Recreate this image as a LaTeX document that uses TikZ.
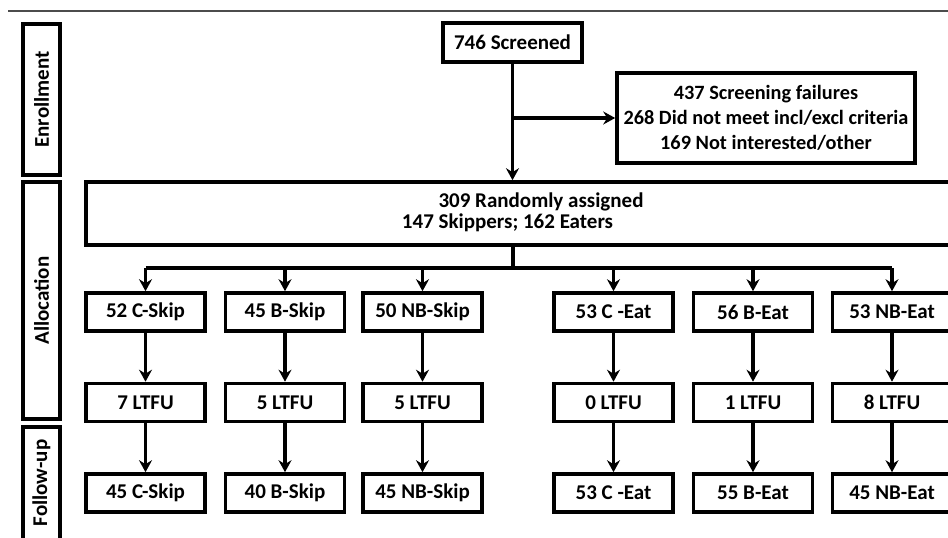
\documentclass[tikz,border=0pt]{standalone}
\usepackage{fontspec}
\setmainfont{Carlito}
\usetikzlibrary{arrows.meta}
\begin{document}
\begin{tikzpicture}[x=1pt,y=-1pt,
  box/.style={draw,line width=3.6pt,minimum width=119pt,minimum height=38pt,inner sep=0pt,font=\fontsize{21}{25}\selectfont\bfseries},
  sidebox/.style={draw,line width=3.6pt,inner sep=0pt},
  sidelab/.style={rotate=90,font=\fontsize{21}{25}\selectfont\bfseries},
  txt/.style={font=\fontsize{21}{25}\selectfont\bfseries,inner sep=0pt},
  conn/.style={line width=3.6pt},
  arr/.style={conn,-{Stealth[length=12pt,width=13pt,inset=4pt]}}]
\useasboundingbox (0,0) rectangle (948,538);
\draw[line width=1.2pt,gray!60!black] (8,11) -- (948,11);
% side boxes
\node[sidebox,minimum width=37pt,minimum height=151pt] (enr) at (41.5,99.5) {};
\node[sidelab] (enrl) at (enr.center) {Enrollment};
\node[sidebox,minimum width=37pt,minimum height=237pt] (all) at (41.5,300.5) {};
\node[sidelab] (alll) at (all.center) {Allocation};
\node[sidebox,minimum width=37pt,minimum height=130pt] (fol) at (41.5,492) {};
\node[sidelab] (foll) at (41.5,483) {Follow-up};
% top
\node[box,minimum width=139pt,minimum height=39pt] (scr) at (512.5,42.5) {746 Screened};
\node[box,minimum width=298pt,minimum height=90pt,align=center,font=\fontsize{20.3}{25}\selectfont\bfseries] (fail) at (766,118) {437 Screening failures\\268 Did not meet incl/excl criteria\\169 Not interested/other};
\node[sidebox,minimum width=880pt,minimum height=63pt] (rand) at (526,213.5) {};
\node[txt] (r1) at (541,202) {309 Randomly assigned};
\node[txt] (r2) at (507.5,223) {147 Skippers; 162 Eaters};
\coordinate (branch) at (513,118);
\draw[arr] (scr.south) -- (scr.south |- rand.north);
\draw[arr] (branch) -- (fail.west);
% columns
\foreach \n/\x/\a/\b/\c in {1/145.5/52 C-Skip/7 LTFU/45 C-Skip,
                          2/285/45 B-Skip/5 LTFU/40 B-Skip,
                          3/422.5/50 NB-Skip/5 LTFU/45 NB-Skip,
                          4/613.5/53 C -Eat/0 LTFU/53 C -Eat,
                          5/753/56 B-Eat/1 LTFU/55 B-Eat,
                          6/892/53 NB-Eat/8 LTFU/45 NB-Eat}{
  \node[box] (a\n) at (\x,312) {\a};
  \node[box] (b\n) at (\x,402.5) {\b};
  \node[box] (c\n) at (\x,493) {\c};
  \draw[arr] (a\n) -- (b\n);
  \draw[arr] (b\n) -- (c\n);
}
\coordinate (hub) at (513,268);
\draw[conn] (rand.south -| hub) -- (hub);
\draw[conn] (a1.north |- hub) -- (a6.north |- hub);
\foreach \n in {1,...,6}{\draw[arr] (a\n.north |- hub) -- (a\n.north);}
\end{tikzpicture}
\end{document}
